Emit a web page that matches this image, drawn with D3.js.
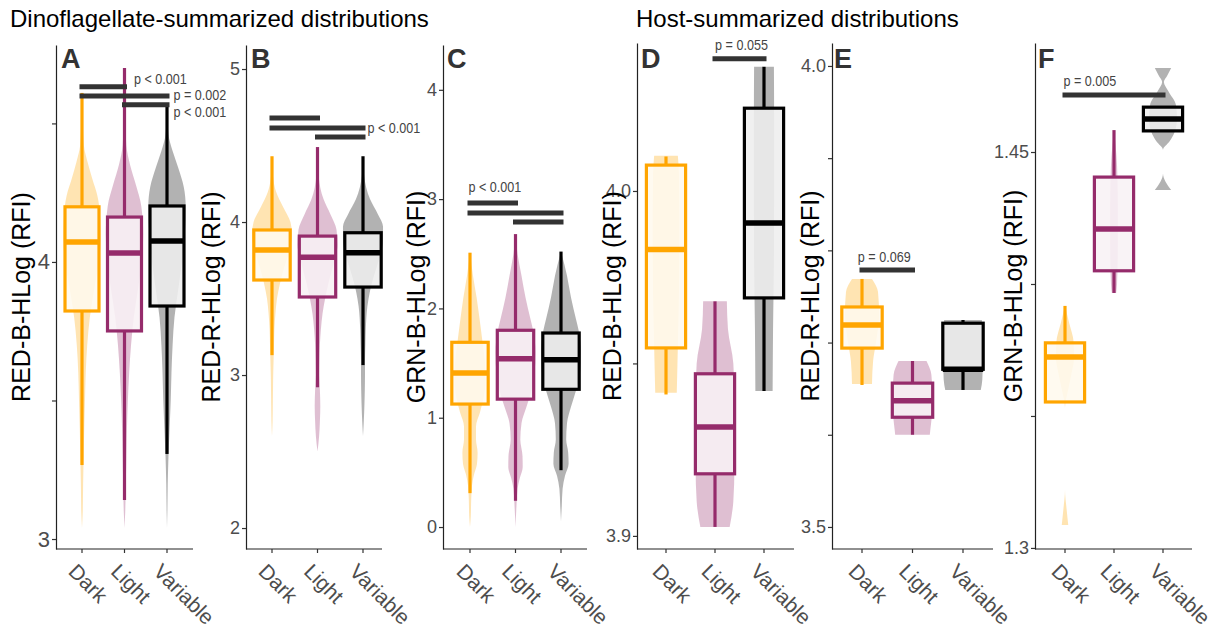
<!DOCTYPE html>
<html>
<head>
<meta charset="utf-8">
<script src="https://cdn.jsdelivr.net/npm/d3@7"></script>
<style>
  body { margin: 0; background: #fff; }
  svg { display: block; font-family: "Liberation Sans", Arial, sans-serif; }
</style>
</head>
<body>
<svg id="chart" width="1216" height="632"></svg>
<script>
// ---- data ----
const groups = ["Dark", "Light", "Variable"];
const groupColors = ["#FFA500", "#952B6B", "#000000"];

// box statistics per group: [lower whisker, Q1, median, Q3, upper whisker]
const boxA = [[3.267, 3.823, 4.072, 4.199, 4.61], [3.141, 3.751, 4.032, 4.162, 4.70], [3.307, 3.841, 4.076, 4.202, 4.56]];
const boxB = [[3.13, 3.621, 3.817, 3.948, 4.43], [2.92, 3.51, 3.77, 3.908, 4.49], [3.065, 3.575, 3.80, 3.93, 4.43]];
const boxC = [[0.31, 1.125, 1.41, 1.69, 2.51], [0.24, 1.17, 1.54, 1.80, 2.68], [0.52, 1.26, 1.53, 1.775, 2.52]];
const boxD = [[3.941, 3.9545, 3.983, 4.0075, 4.010], [3.9026, 3.918, 3.9316, 3.947, 3.968], [3.942, 3.969, 3.9907, 4.024, 4.036]];
const boxE = [[3.654, 3.694, 3.719, 3.7386, 3.769], [3.600, 3.619, 3.637, 3.656, 3.68], [3.6486, 3.671, 3.671, 3.721, 3.7245]];
const boxF = [[1.3553, 1.3553, 1.3723, 1.3777, 1.3917], [1.3966, 1.405, 1.4208, 1.4405, 1.4583], [1.458, 1.458, 1.4625, 1.467, 1.467]];

// violin density profiles per group: [value, relative density]
const violinA = [
  [[4.62,0],[4.50,0.04],[4.42,0.1],[4.36,0.3],[4.30,0.55],[4.24,0.82],[4.16,0.97],[4.08,1.0],[4.0,0.9],[3.9,0.65],[3.8,0.42],[3.7,0.28],[3.6,0.2],[3.5,0.16],[3.4,0.12],[3.3,0.09],[3.2,0.06],[3.1,0.04],[3.04,0]],
  [[4.70,0],[4.55,0.03],[4.42,0.1],[4.35,0.3],[4.28,0.6],[4.2,0.9],[4.1,1.0],[4.0,0.92],[3.9,0.72],[3.8,0.5],[3.7,0.35],[3.6,0.25],[3.5,0.18],[3.4,0.13],[3.3,0.1],[3.2,0.07],[3.1,0.04],[3.04,0]],
  [[4.56,0],[4.46,0.08],[4.40,0.3],[4.34,0.6],[4.27,0.9],[4.2,1.0],[4.1,0.95],[4.0,0.8],[3.9,0.6],[3.8,0.4],[3.7,0.3],[3.6,0.24],[3.5,0.2],[3.4,0.14],[3.3,0.08],[3.2,0.04],[3.1,0.02],[3.04,0]]
];
const violinB = [
  [[4.43,0],[4.3,0.05],[4.2,0.2],[4.1,0.55],[4.0,0.92],[3.92,1.0],[3.8,0.85],[3.7,0.6],[3.6,0.4],[3.5,0.25],[3.4,0.17],[3.3,0.12],[3.2,0.1],[3.1,0.08],[3.0,0.06],[2.9,0.05],[2.8,0.04],[2.7,0.03],[2.6,0]],
  [[4.49,0],[4.3,0.06],[4.15,0.3],[4.05,0.65],[3.95,0.95],[3.85,1.0],[3.75,0.85],[3.6,0.55],[3.5,0.38],[3.4,0.25],[3.3,0.17],[3.2,0.12],[3.1,0.1],[3.0,0.09],[2.9,0.12],[2.8,0.14],[2.7,0.12],[2.6,0.08],[2.5,0]],
  [[4.43,0],[4.3,0.06],[4.15,0.35],[4.05,0.75],[3.97,1.0],[3.88,1.0],[3.78,0.85],[3.65,0.55],[3.55,0.35],[3.45,0.22],[3.3,0.14],[3.2,0.12],[3.1,0.1],[3.0,0.1],[2.9,0.09],[2.8,0.07],[2.7,0.04],[2.6,0]]
];
const violinC = [
  [[2.51,0],[2.3,0.15],[2.1,0.33],[1.9,0.48],[1.7,0.62],[1.5,0.75],[1.35,0.78],[1.2,0.7],[1.05,0.5],[0.92,0.3],[0.8,0.3],[0.68,0.38],[0.58,0.35],[0.48,0.2],[0.38,0.1],[0.25,0.06],[0.1,0.04],[0.0,0]],
  [[2.68,0],[2.5,0.1],[2.3,0.3],[2.1,0.5],[1.9,0.75],[1.8,0.88],[1.6,1.0],[1.4,0.95],[1.25,0.8],[1.1,0.55],[0.95,0.3],[0.8,0.24],[0.65,0.35],[0.55,0.36],[0.45,0.22],[0.35,0.1],[0.2,0.05],[0.0,0]],
  [[2.52,0],[2.3,0.3],[2.1,0.5],[1.9,0.75],[1.8,0.88],[1.6,1.0],[1.4,0.95],[1.25,0.75],[1.1,0.5],[0.95,0.3],[0.8,0.26],[0.68,0.36],[0.58,0.38],[0.47,0.2],[0.35,0.08],[0.2,0.04],[0.05,0]]
];
const violinD = [
  [[4.0102,0.55],[4.005,0.6],[3.99,0.62],[3.97,0.6],[3.955,0.55],[3.9415,0.5]],
  [[3.968,0.55],[3.96,0.6],[3.95,0.85],[3.94,0.9],[3.92,0.9],[3.91,0.85],[3.9026,0.68]],
  [[4.036,0.46],[4.02,0.47],[4.0,0.47],[3.98,0.46],[3.96,0.42],[3.942,0.4]]
];
const violinE = [
  [[3.769,0.45],[3.755,0.72],[3.73,0.77],[3.70,0.63],[3.68,0.5],[3.655,0.45]],
  [[3.68,0.63],[3.665,0.85],[3.64,0.9],[3.62,0.87],[3.605,0.8],[3.6,0.78]],
  [[3.7245,0.85],[3.69,0.9],[3.66,0.87],[3.6486,0.8]]
];
const violinF = [
  [[1.3917,0],[1.385,0.2],[1.378,0.4],[1.372,0.42],[1.366,0.3],[1.36,0.15],[1.353,0],[1.322,0],[1.315,0.07],[1.3087,0.15]],
  [[1.4583,0],[1.452,0.08],[1.445,0.14],[1.43,0.18],[1.415,0.18],[1.40,0.14],[1.3966,0.1]],
  [[1.4818,0.38],[1.479,0.2],[1.4765,0.04],[1.473,0.25],[1.4678,0.6],[1.4625,0.65],[1.4576,0.54],[1.454,0.3],[1.4508,0],[1.442,0],[1.4356,0.38]]
];

// y-axis limits, ticks and tick labels
const domainA = [2.964, 4.783], ticksA = [3, 3.5, 4, 4.5], tickLabelsA = ["3", "", "4", ""];
const domainB = [1.863, 5.157], ticksB = [2, 3, 4, 5], tickLabelsB = ["2", "3", "4", "5"];
const domainC = [-0.201, 4.41], ticksC = [0, 1, 2, 3, 4], tickLabelsC = ["0", "1", "2", "3", "4"];
const domainD = [3.8962, 4.0429], ticksD = [3.9, 3.95, 4.0], tickLabelsD = ["3.9", "", "4.0"];
const domainE = [3.4761, 4.0249], ticksE = [3.5, 3.6, 3.7, 3.8, 3.9, 4.0], tickLabelsE = ["3.5", "", "", "", "", "4.0"];
const domainF = [1.2996, 1.4913], ticksF = [1.30, 1.35, 1.40, 1.45], tickLabelsF = ["1.3", "", "", "1.45"];

// significance brackets: [from group, to group, height, label]
const bracketsA = [[0, 1, 4.632, "p < 0.001"], [0, 2, 4.599, "p = 0.002"], [1, 2, 4.567, "p < 0.001"]];
const bracketsB = [[0, 1, 4.680, ""], [0, 2, 4.614, "p < 0.001"], [1, 2, 4.556, ""]];
const bracketsC = [[0, 1, 2.964, "p < 0.001"], [0, 2, 2.873, ""], [1, 2, 2.790, ""]];
const bracketsD = [[1, 2, 4.0383, "p = 0.055"]];
const bracketsE = [[0, 1, 3.7787, "p = 0.069"]];
const bracketsF = [[0, 2, 1.4716, "p = 0.005"]];

const sectionTitles = ["Dinoflagellate-summarized distributions", "Host-summarized distributions"];
const panelLetters = ["A", "B", "C", "D", "E", "F"];
const yTitles = ["RED-B-HLog (RFI)", "RED-R-HLog (RFI)", "GRN-B-HLog (RFI)", "RED-B-HLog (RFI)", "RED-R-HLog (RFI)", "GRN-B-HLog (RFI)"];

const panels = [
  { box: boxA, violin: violinA, domain: domainA, ticks: ticksA, tickLabels: tickLabelsA, brackets: bracketsA },
  { box: boxB, violin: violinB, domain: domainB, ticks: ticksB, tickLabels: tickLabelsB, brackets: bracketsB },
  { box: boxC, violin: violinC, domain: domainC, ticks: ticksC, tickLabels: tickLabelsC, brackets: bracketsC },
  { box: boxD, violin: violinD, domain: domainD, ticks: ticksD, tickLabels: tickLabelsD, brackets: bracketsD },
  { box: boxE, violin: violinE, domain: domainE, ticks: ticksE, tickLabels: tickLabelsE, brackets: bracketsE },
  { box: boxF, violin: violinF, domain: domainF, ticks: ticksF, tickLabels: tickLabelsF, brackets: bracketsF }
];

// ---- layout ----
const layout = [
  { left: 56,   end: 193,  cat0: 82,   cat1: 167,  top: 45, bottom: 549, letterX: 61,   titleX: 30,   tickFont: 22,
    labelPos: [{ ref: "end", dx: 7, dy: -8, anchor: "start" }, { ref: "end", dx: 4, dy: -1, anchor: "start" }, { ref: "end", dx: 4, dy: 7, anchor: "start" }] },
  { left: 246,  end: 382,  cat0: 272,  cat1: 363,  top: 45, bottom: 549, letterX: 251,  titleX: 220,  tickFont: 18,
    labelPos: [null, { ref: "end", dx: 2, dy: 0, anchor: "start" }, null] },
  { left: 443,  end: 587,  cat0: 470,  cat1: 561,  top: 45, bottom: 549, letterX: 447,  titleX: 425,  tickFont: 18,
    labelPos: [{ ref: "start", dx: 1, dy: -16, anchor: "start" }, null, null] },
  { left: 637,  end: 794,  cat0: 666,  cat1: 764,  top: 43, bottom: 549, letterX: 641,  titleX: 621,  tickFont: 18,
    labelPos: [{ ref: "mid", dx: 2, dy: -14, anchor: "middle" }] },
  { left: 832,  end: 993,  cat0: 862,  cat1: 963,  top: 43, bottom: 549, letterX: 834,  titleX: 819,  tickFont: 18,
    labelPos: [{ ref: "mid", dx: -3, dy: -13, anchor: "middle" }] },
  { left: 1035, end: 1192, cat0: 1065, cat1: 1163, top: 43, bottom: 549, letterX: 1038, titleX: 1022, tickFont: 18,
    labelPos: [{ ref: "start", dx: 1, dy: -14, anchor: "start" }] }
];
const sectionTitleX = [10, 636];

const svg = d3.select("#chart");

// section headings
svg.selectAll("text.section").data(sectionTitles).join("text")
  .attr("class", "section")
  .attr("x", (d, i) => sectionTitleX[i]).attr("y", 27)
  .attr("font-size", 24).attr("fill", "#000")
  .text(d => d);

function drawPanel(p, L, idx) {
  const g = svg.append("g");
  const x = d3.scalePoint().domain(groups).range([L.cat0, L.cat1]);
  const step = x.step();
  const y = d3.scaleLinear().domain(p.domain).range([L.bottom, L.top]);
  const halfMax = 0.44 * step;
  const boxW = 0.8 * step;

  // violins
  p.violin.forEach((prof, i) => {
    const cx = x(groups[i]);
    const pts = prof.slice().sort((a, b) => b[0] - a[0]);
    const area = d3.area()
      .y(d => y(d[0]))
      .x0(d => cx - d[1] * halfMax)
      .x1(d => cx + d[1] * halfMax)
      .curve(d3.curveMonotoneY);
    g.append("path").attr("d", area(pts))
      .attr("fill", groupColors[i]).attr("fill-opacity", 0.3).attr("stroke", "none");
  });

  // boxes with whiskers
  p.box.forEach((b, i) => {
    const cx = x(groups[i]);
    const c = groupColors[i];
    const [lo, q1, med, q3, hi] = b;
    g.append("line").attr("x1", cx).attr("x2", cx).attr("y1", y(hi)).attr("y2", y(q3))
      .attr("stroke", c).attr("stroke-width", 3.2);
    g.append("line").attr("x1", cx).attr("x2", cx).attr("y1", y(q1)).attr("y2", y(lo))
      .attr("stroke", c).attr("stroke-width", 3.2);
    g.append("rect").attr("x", cx - boxW / 2).attr("y", y(q3)).attr("width", boxW).attr("height", y(q1) - y(q3))
      .attr("fill", "#fff").attr("fill-opacity", 0.88);
    g.append("rect").attr("x", cx - boxW / 2).attr("y", y(q3)).attr("width", boxW).attr("height", y(q1) - y(q3))
      .attr("fill", c).attr("fill-opacity", 0.06).attr("stroke", c).attr("stroke-width", 3.2);
    g.append("line").attr("x1", cx - boxW / 2).attr("x2", cx + boxW / 2).attr("y1", y(med)).attr("y2", y(med))
      .attr("stroke", c).attr("stroke-width", 5.5);
  });

  // significance brackets
  p.brackets.forEach((br, j) => {
    const x1 = x(groups[br[0]]) - 2.5, x2 = x(groups[br[1]]) + 2.5, yy = y(br[2]);
    g.append("line").attr("x1", x1).attr("x2", x2).attr("y1", yy).attr("y2", yy)
      .attr("stroke", "#333").attr("stroke-width", 5);
    const lp = L.labelPos[j];
    if (br[3] && lp) {
      const ax = lp.ref === "end" ? x2 : lp.ref === "start" ? x1 : (x1 + x2) / 2;
      g.append("text")
        .attr("transform", `translate(${ax + lp.dx},${yy + lp.dy}) scale(0.84,1)`)
        .attr("text-anchor", lp.anchor).attr("dominant-baseline", "central")
        .attr("font-size", 15).attr("fill", "#444")
        .text(br[3]);
    }
  });

  // y axis
  const yAxis = d3.axisLeft(y).tickValues(p.ticks)
    .tickFormat((d, i) => p.tickLabels[i]).tickSizeInner(4).tickSizeOuter(0).tickPadding(2);
  const ya = g.append("g").attr("transform", `translate(${L.left},0)`).call(yAxis);
  ya.select(".domain").attr("stroke", "#222").attr("stroke-width", 1.2);
  ya.selectAll(".tick line").attr("stroke", "#333").attr("stroke-width", 1.2);
  ya.selectAll(".tick text").attr("font-size", L.tickFont).attr("fill", "#4D4D4D")
    .attr("font-family", "Liberation Sans, Arial, sans-serif");

  // x axis
  g.append("line").attr("x1", L.left).attr("x2", L.end).attr("y1", L.bottom).attr("y2", L.bottom)
    .attr("stroke", "#222").attr("stroke-width", 1.2);
  groups.forEach(name => {
    const cx = x(name);
    g.append("line").attr("x1", cx).attr("x2", cx).attr("y1", L.bottom).attr("y2", L.bottom + 4)
      .attr("stroke", "#333").attr("stroke-width", 1.2);
    g.append("text")
      .attr("transform", `translate(${cx - 4},${L.bottom + 13}) rotate(45)`)
      .attr("text-anchor", "start").attr("dominant-baseline", "hanging")
      .attr("font-size", 21).attr("fill", "#4D4D4D")
      .text(name);
  });

  // axis title
  g.append("text")
    .attr("transform", `translate(${L.titleX},${(L.top + L.bottom) / 2}) rotate(-90)`)
    .attr("text-anchor", "middle").attr("font-size", 25).attr("fill", "#000")
    .text(yTitles[idx]);

  // panel letter
  g.append("text").attr("x", L.letterX).attr("y", 68)
    .attr("font-size", 27).attr("font-weight", "bold").attr("fill", "#333")
    .text(panelLetters[idx]);
}

panels.forEach((p, i) => drawPanel(p, layout[i], i));
</script>
</body>
</html>
